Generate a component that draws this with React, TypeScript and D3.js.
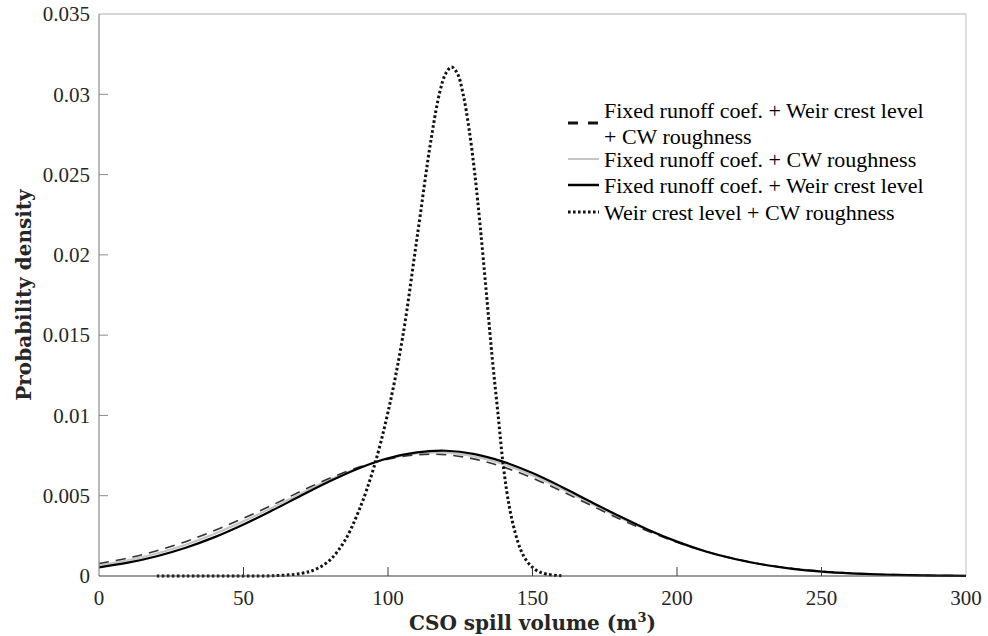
import React from "react";
import * as d3 from "d3";

const xGrid = [0,10,20,30,40,50,60,70,80,90,100,110,120,130,140,150,160,170,180,190,200,210,220,230,240,250,260,270,280,290,300];
const dashedVals = [0.00078,0.00112,0.00157,0.00214,0.00283,0.00360,0.00442,0.00529,0.00610,0.00678,0.00728,0.00755,0.00755,0.00728,0.00678,0.00610,0.00529,0.00442,0.00357,0.00279,0.00210,0.00152,0.00107,0.00072,0.00047,0.000296,0.00018,0.000105,0.00006,0.000033,0.000017];
const grayVals = [0.00068,0.00098,0.00140,0.00195,0.00263,0.00341,0.00426,0.00515,0.00601,0.00675,0.00731,0.00763,0.00768,0.00744,0.00695,0.00626,0.00543,0.00453,0.00365,0.00284,0.00212,0.00153,0.00107,0.00071,0.00046,0.00029,0.00017,0.0001,0.000055,0.00003,0.000015];
const solidVals = [0.000537,0.000829,0.001231,0.00176,0.00242,0.00321,0.00409,0.00501,0.00591,0.00671,0.00733,0.00770,0.00780,0.00759,0.00711,0.00641,0.00556,0.00464,0.00373,0.00288,0.00214,0.00153,0.00106,0.00070,0.000446,0.000274,0.000162,0.0000919,0.0000502,0.0000264,0.0000134];

const dotX = [20,30,40,50,60,70,75,80,85,90,95,100,105,110,115,118,120,122,124,126,128,130,132,134,136,138,140,142,144,146,148,150,152,155,160];
const dotVals = [0,0,0,0.0000006,0.0000174,0.00016,0.00042,0.00101,0.00219,0.0041,0.0067,0.0102,0.0148,0.0210,0.0273,0.0302,0.0313,0.0317,0.0313,0.0300,0.0279,0.0251,0.0216,0.0177,0.0137,0.0102,0.0067,0.0043,0.0027,0.0016,0.00094,0.00054,0.00029,0.00011,0.00002];

const xTicks = [0,50,100,150,200,250,300];
const yTicks = [0,0.005,0.01,0.015,0.02,0.025,0.03,0.035];
const yTickLabels = ["0","0.005","0.01","0.015","0.02","0.025","0.03","0.035"];

const legendLabels = [
  ["Fixed runoff coef. + Weir crest level", "+ CW roughness"],
  ["Fixed runoff coef. + CW roughness"],
  ["Fixed runoff coef. + Weir crest level"],
  ["Weir crest level + CW roughness"],
];

const L = 99, R = 966, T = 14, B = 576;

export default function App() {
  const x = d3.scaleLinear().domain([0, 300]).range([L, R]);
  const y = d3.scaleLinear().domain([0, 0.035]).range([B, T]);
  const line = d3.line<[number, number]>().x(d => x(d[0])).y(d => y(d[1])).curve(d3.curveCatmullRom);
  const mk = (xs: number[], vs: number[]) => xs.map((v, i) => [v, vs[i]] as [number, number]);
  const serif = "Liberation Serif";
  const labFont = "DejaVu Serif";

  const series = [
    { d: line(mk(xGrid, grayVals)), stroke: "#c4c4c4", w: 2, dash: undefined },
    { d: line(mk(xGrid, dashedVals)), stroke: "#333", w: 1.6, dash: "10,7" },
    { d: line(mk(xGrid, solidVals)), stroke: "#000", w: 2.2, dash: undefined },
    { d: line(mk(dotX, dotVals)), stroke: "#111", w: 3, dash: "2.6,2.4" },
  ];

  const legendStyles = [
    { stroke: "#111", w: 3, dash: "10,10", y: 123 },
    { stroke: "#c4c4c4", w: 2, dash: undefined, y: 159 },
    { stroke: "#000", w: 2.5, dash: undefined, y: 185 },
    { stroke: "#111", w: 3, dash: "2.6,2.4", y: 212 },
  ];
  const legendTextY = [[110, 136], [159], [185], [212]];

  const tickStyle = { fontFamily: serif, fontSize: 21 };
  const labStyle = { fontFamily: labFont, fontSize: 20, fontWeight: 700 };

  return (
    <svg width={988} height={636} style={{ position: "absolute", left: 0, top: 0, background: "#fff" }}>
      <rect x={0} y={0} width={988} height={636} fill="#fff" />
      <line x1={L} x2={R} y1={T} y2={T} stroke="#b0b0b0" strokeWidth={1} />
      <line x1={R} x2={R} y1={T} y2={B} stroke="#c0c0c0" strokeWidth={1} />
      {series.map((s, i) => (
        <path key={i} d={s.d || ""} fill="none" stroke={s.stroke} strokeWidth={s.w} strokeDasharray={s.dash} />
      ))}
      <line x1={L} x2={L} y1={T} y2={B} stroke="#8a8a8a" strokeWidth={1.2} />
      <line x1={L} x2={R} y1={B} y2={B} stroke="#3a3a3a" strokeWidth={1.2} />
      {yTicks.map((t, i) => (
        <g key={"y" + i}>
          {i > 0 && i < yTicks.length - 1 && <line x1={L} x2={L + 9} y1={y(t)} y2={y(t)} stroke="#8a8a8a" strokeWidth={1} />}
          <text x={90} y={y(t)} dy="0.35em" textAnchor="end" style={tickStyle} fill="#262626">{yTickLabels[i]}</text>
        </g>
      ))}
      {xTicks.map((t, i) => (
        <g key={"x" + i}>
          {i > 0 && i < xTicks.length - 1 && <line x1={x(t)} x2={x(t)} y1={B} y2={B - 9} stroke="#3a3a3a" strokeWidth={1} />}
          <text x={x(t)} y={605} textAnchor="middle" style={tickStyle} fill="#262626">{t}</text>
        </g>
      ))}
      <text x={(L + R) / 2} y={630} textAnchor="middle" style={labStyle} fill="#262626">
        CSO spill volume (m<tspan dy="-8" style={{ fontSize: 13 }}>3</tspan><tspan dy="8">)</tspan>
      </text>
      <text transform={`translate(31,${(T + B) / 2}) rotate(-90)`} textAnchor="middle" style={labStyle} fill="#262626">
        Probability density
      </text>
      {legendLabels.map((lines, i) => (
        <g key={"lg" + i}>
          <line x1={568} x2={599} y1={legendStyles[i].y} y2={legendStyles[i].y} stroke={legendStyles[i].stroke} strokeWidth={legendStyles[i].w} strokeDasharray={legendStyles[i].dash} />
          {lines.map((t, j) => (
            <text key={j} x={604} y={legendTextY[i][j]} dy="0.35em" style={{ fontFamily: serif, fontSize: 22 }} fill="#000">{t}</text>
          ))}
        </g>
      ))}
    </svg>
  );
}
